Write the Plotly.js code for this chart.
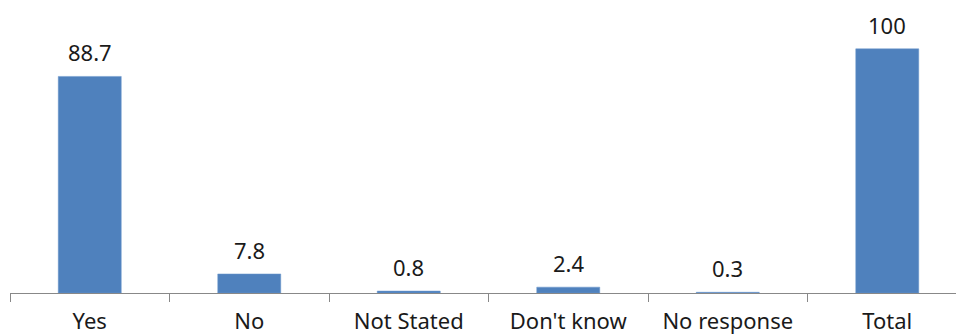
<!DOCTYPE html>
<html>
<head>
<meta charset="utf-8">
<script src="https://cdn.plot.ly/plotly-3.0.1.min.js"></script>
<style>
  html, body { margin: 0; padding: 0; overflow: hidden; background: #fff; }
  #chart { width: 967px; height: 335px; }
</style>
</head>
<body>
<div id="chart"></div>
<script>
// Survey responses (percent)
const categories = ["Yes", "No", "Not Stated", "Don't know", "No response", "Total"];
const percents = [88.7, 7.8, 0.8, 2.4, 0.3, 100];
const valueLabels = ["88.7", "7.8", "0.8", "2.4", "0.3", "100"];

const barColor = "#4F81BD";
const textFont = { family: "Noto Sans, Open Sans, sans-serif", size: 22, color: "#1a1a1a" };

const trace = {
  type: "bar",
  x: categories,
  y: percents,
  marker: { color: barColor, line: { color: "#6a96cc", width: 0.5 } },
  hoverinfo: "x+y"
};

// value labels sit a fixed distance above each bar
const annotations = categories.map((c, i) => ({
  x: c,
  y: percents[i],
  text: valueLabels[i],
  showarrow: false,
  yanchor: "middle",
  yshift: 24,
  font: textFont
}));

const layout = {
  width: 967,
  height: 335,
  margin: { l: 10, r: 0, t: 0, b: 42 },
  paper_bgcolor: "#fff",
  plot_bgcolor: "#fff",
  bargap: 0.605,
  showlegend: false,
  xaxis: {
    type: "category",
    tickson: "boundaries",
    ticks: "outside",
    ticklen: 8,
    tickwidth: 1,
    tickcolor: "#888888",
    showline: true,
    linecolor: "#888888",
    linewidth: 1,
    showgrid: false,
    tickfont: textFont,
    ticklabelstandoff: 9,
    fixedrange: true
  },
  yaxis: {
    visible: false,
    range: [0, 120],
    fixedrange: true
  },
  annotations: annotations
};

Plotly.newPlot("chart", [trace], layout, { displayModeBar: false, staticPlot: true });
</script>
</body>
</html>
